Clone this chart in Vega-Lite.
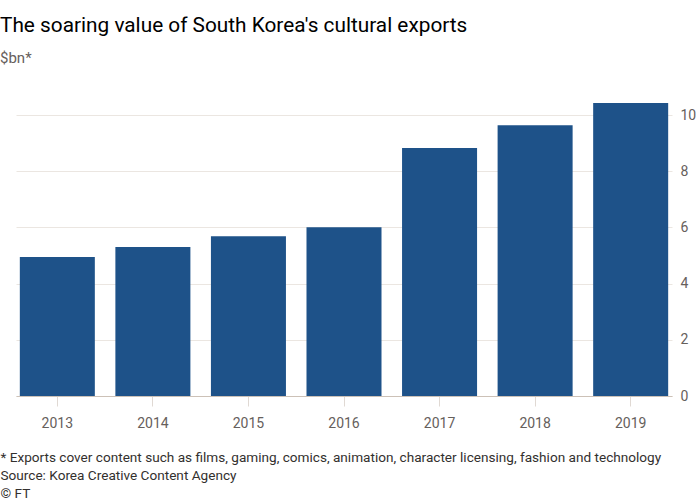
{
  "$schema": "https://vega.github.io/schema/vega-lite/v6.json",
  "width": 656,
  "height": 295,
  "autosize": {"type": "none"},
  "padding": {"left": 16, "top": 101, "right": 28, "bottom": 104},
  "background": "#ffffff",
  "title": {
    "text": "The soaring value of South Korea's cultural exports",
    "subtitle": "$bn*",
    "anchor": "start",
    "font": "Roboto",
    "fontSize": 20.8,
    "fontWeight": "normal",
    "color": "#000000",
    "subtitleFont": "Roboto",
    "subtitleFontSize": 15,
    "subtitleColor": "#66605c",
    "subtitlePadding": 14,
    "offset": 34
  },
  "data": {
    "values": [
      {"year": "2013", "value": 4.95},
      {"year": "2014", "value": 5.3},
      {"year": "2015", "value": 5.69},
      {"year": "2016", "value": 6.01},
      {"year": "2017", "value": 8.83},
      {"year": "2018", "value": 9.64},
      {"year": "2019", "value": 10.43}
    ]
  },
  "mark": {"type": "bar", "color": "#1e5289"},
  "encoding": {
    "x": {
      "field": "year",
      "type": "ordinal",
      "scale": {"paddingInner": 0.215, "paddingOuter": 0.04},
      "axis": {
        "labelAngle": 0,
        "labelFont": "Roboto",
        "labelFontSize": 14,
        "labelColor": "#66605c",
        "labelPadding": 10,
        "domainColor": "#ccc1b7",
        "tickColor": "#e0d9d3",
        "tickSize": 10,
        "title": [
          "* Exports cover content such as films, gaming, comics, animation, character licensing, fashion and technology",
          "Source: Korea Creative Content Agency",
          "© FT"
        ],
        "titleFont": "Roboto",
        "titleFontSize": 13.6,
        "titleFontWeight": "normal",
        "titleColor": "#33302e",
        "titleAnchor": "start",
        "titleAlign": "left",
        "titleX": -16,
        "titleLineHeight": 18,
        "titlePadding": 20
      }
    },
    "y": {
      "field": "value",
      "type": "quantitative",
      "scale": {"domain": [0, 10.5], "nice": false},
      "axis": {
        "orient": "right",
        "values": [0, 2, 4, 6, 8, 10],
        "grid": true,
        "gridColor": "#ebe6e1",
        "domain": false,
        "ticks": false,
        "labelFont": "Roboto",
        "labelFontSize": 14,
        "labelColor": "#66605c",
        "labelPadding": 8,
        "title": null
      }
    }
  },
  "config": {"view": {"stroke": null}}
}
